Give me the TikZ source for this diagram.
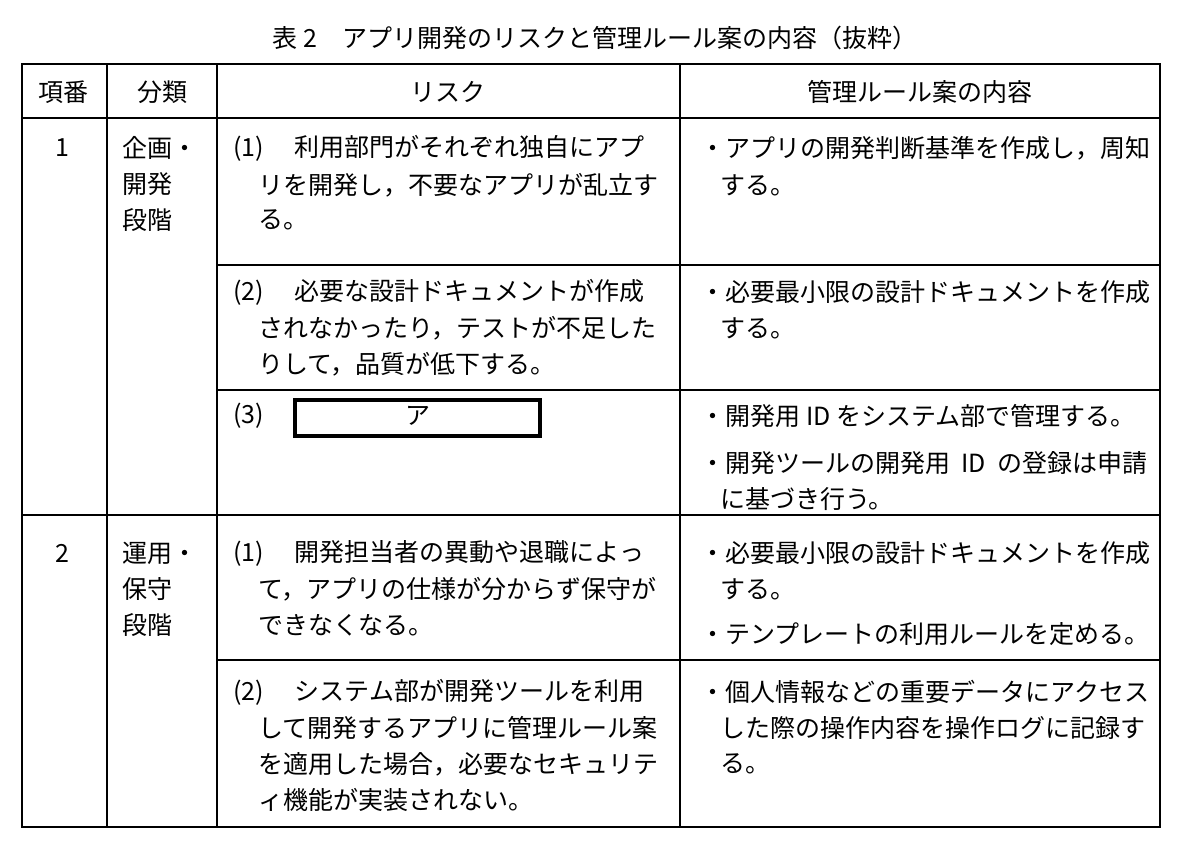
\documentclass[tikz,border=0pt]{standalone}
\usepackage{fontspec}
\setmainfont{Noto Sans CJK JP}
\begin{document}
\begin{tikzpicture}[x=0.5pt,y=-0.5pt,
    txt/.style={anchor=west, inner sep=0pt, font=\fontsize{12.5pt}{14pt}\selectfont},
    hd/.style={inner sep=0pt, font=\fontsize{12.5pt}{14pt}\selectfont},
    rule/.style={line width=0.8pt}]
  \useasboundingbox (0,0) rectangle (1182,847);
  % title
  \node[hd] (title) at (595,38) {表 2\quad アプリ開発のリスクと管理ルール案の内容（抜粋）};
  % frame
  \draw[rule] (22,64) rectangle (1160,827);
  \draw[rule] (107,64) -- (107,827);
  \draw[rule] (217,64) -- (217,827);
  \draw[rule] (680,64) -- (680,827);
  \draw[rule] (22,118) -- (1160,118);
  \draw[rule] (22,515) -- (1160,515);
  \foreach \y in {265,390,660}
    \draw[rule] (217,\y) -- (1160,\y);
  % header
  \node[hd] (hno) at (64,92) {項番};
  \node[hd] (hcat) at (162,92) {分類};
  \node[hd] (hrisk) at (448,92) {リスク};
  \node[hd] (hrule) at (920,92) {管理ルール案の内容};
  % column 1/2
  \node[hd] (n1) at (62,148) {1};
  \node[hd] (n2) at (62,553) {2};
  \node[txt] (c1a) at (122,148) {企画・};
  \node[txt] (c1b) at (122,184) {開発};
  \node[txt] (c1c) at (122,220) {段階};
  \node[txt] (c2a) at (122,553) {運用・};
  \node[txt] (c2b) at (122,589) {保守};
  \node[txt] (c2c) at (122,625) {段階};
  % risks
  \node[txt] (r11a) at (233,148) {(1)\quad\ 利用部門がそれぞれ独自にアプ};
  \node[txt] (r11b) at (258,185) {リを開発し，不要なアプリが乱立す};
  \node[txt] (r11c) at (258,220) {る。};
  \node[txt] (r12a) at (233,292) {(2)\quad\ 必要な設計ドキュメントが作成};
  \node[txt] (r12b) at (258,328) {されなかったり，テストが不足した};
  \node[txt] (r12c) at (258,364) {りして，品質が低下する。};
  \node[txt] (r13) at (233,416) {(3)};
  \draw[line width=1.6pt] (295,400) rectangle (540,436);
  \node[hd] (blank) at (418,416) {ア};
  \node[txt] (r21a) at (233,553) {(1)\quad\ 開発担当者の異動や退職によっ};
  \node[txt] (r21b) at (258,589) {て，アプリの仕様が分からず保守が};
  \node[txt] (r21c) at (258,625) {できなくなる。};
  \node[txt] (r22a) at (233,692) {(2)\quad\ システム部が開発ツールを利用};
  \node[txt] (r22b) at (258,728) {して開発するアプリに管理ルール案};
  \node[txt] (r22c) at (258,764) {を適用した場合，必要なセキュリテ};
  \node[txt] (r22d) at (258,800) {ィ機能が実装されない。};
  % rules
  \node[txt] (m11a) at (700,148) {・アプリの開発判断基準を作成し，周知};
  \node[txt] (m11b) at (720,185) {する。};
  \node[txt] (m12a) at (700,292) {・必要最小限の設計ドキュメントを作成};
  \node[txt] (m12b) at (720,328) {する。};
  \node[txt] (m13a) at (700,416) {・開発用 ID をシステム部で管理する。};
  \node[txt] (m13b) at (700,463) {・開発ツールの開発用\ \ ID\ \ の登録は申請};
  \node[txt] (m13c) at (720,499) {に基づき行う。};
  \node[txt] (m21a) at (700,553) {・必要最小限の設計ドキュメントを作成};
  \node[txt] (m21b) at (720,589) {する。};
  \node[txt] (m21c) at (700,634) {・テンプレートの利用ルールを定める。};
  \node[txt] (m22a) at (700,692) {・個人情報などの重要データにアクセス};
  \node[txt] (m22b) at (720,728) {した際の操作内容を操作ログに記録す};
  \node[txt] (m22c) at (720,764) {る。};
\end{tikzpicture}
\end{document}
